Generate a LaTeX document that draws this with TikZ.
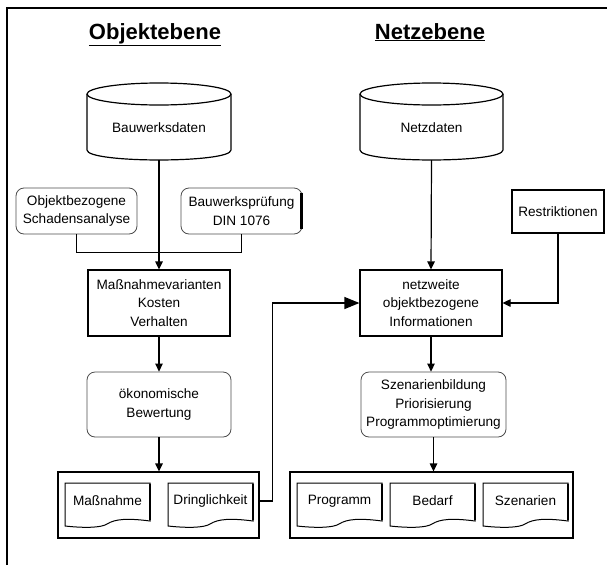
\documentclass[tikz,border=0pt]{standalone}
\usepackage{fontspec}
\setmainfont{Liberation Sans}
\usetikzlibrary{arrows.meta}

\tikzset{
  dok/.pic={
    \draw[line width=1pt,fill=white] (0,0) -- (85,0) -- (85,38) .. controls (62,35) and (50,36) .. (42,41) .. controls (36,45) and (18,45) .. (0,43) -- cycle;
    \draw[line width=2.2pt] (85,1) -- (85,37);
  }
}

\begin{document}
\begin{tikzpicture}[x=1pt,y=-1pt,font=\fontsize{13.6}{18.5}\selectfont,
  kasten/.style={draw=black,line width=1.2pt,inner sep=0pt,align=center},
  rund/.style={draw=black!70,line width=0.8pt,rounded corners=8pt,inner sep=0pt,align=center},
  pfeil/.style={line width=1.2pt,-{Triangle[length=8pt,width=7.5pt]}},
  grosspfeil/.style={line width=1.2pt,-{Triangle[length=15pt,width=12pt]}},
  titel/.style={font=\fontsize{22}{26}\selectfont\bfseries,anchor=base}]
\useasboundingbox (0,0) rectangle (607,565);
% Rahmen
\draw[line width=1.2pt] (7,565) -- (7,8) -- (607,8);
%
\node (t1) [titel] at (155,39) {\underline{Objektebene}};
\node (t2) [titel] at (430,39) {\underline{Netzebene}};
%
% Datenbanken
\draw[line width=1.2pt] (87,94) -- (87,150) .. controls (87,163.3) and (231,163.3) .. (231,150) -- (231,94);
\draw[line width=1.2pt] (159,94) ellipse [x radius=72,y radius=11];
\node (bwd) at (159,128) {Bauwerksdaten};
\coordinate (bwd-unten) at (159,160);
\draw[line width=1.2pt] (360,94) -- (360,150) .. controls (360,163.3) and (503,163.3) .. (503,150) -- (503,94);
\draw[line width=1.2pt] (431.5,94) ellipse [x radius=71.5,y radius=11];
\node (nd) at (431.5,128) {Netzdaten};
\coordinate (nd-unten) at (431.5,160);
%
\node (schaden) [rund,minimum width=121pt,minimum height=46pt] at (76.5,211) {Objektbezogene\\Schadensanalyse};
\node (pruef) [rund,minimum width=121pt,minimum height=46pt] at (241.5,211) {Bauwerksprüfung\\DIN 1076};
\draw[line width=2.2pt] ([xshift=-1pt,yshift=-5pt]pruef.north east) -- ([xshift=-1pt,yshift=5pt]pruef.south east);
\node (restr) [kasten,minimum width=92pt,minimum height=43pt] at (558,211.5) {Restriktionen};
%
\node (mv) [kasten,minimum width=142pt,minimum height=66pt] at (159,303) {Maßnahmevarianten\\Kosten\\Verhalten};
\node (netz) [kasten,minimum width=142pt,minimum height=66pt] at (431,303) {netzweite\\objektbezogene\\Informationen};
%
\node (oek) [rund,minimum width=144pt,minimum height=65pt] at (159,404.5) {ökonomische\\Bewertung};
\node (szen) [rund,minimum width=145pt,minimum height=65pt] at (433.5,404.5) {Szenarienbildung\\Priorisierung\\Programmoptimierung};
%
\node (gruppe1) [kasten,minimum width=201pt,minimum height=66pt] at (158.5,505) {};
\node (gruppe2) [kasten,minimum width=283pt,minimum height=66pt] at (431.5,505) {};
\pic at (65,483) {dok};
\pic at (168,483) {dok};
\pic at (297,483) {dok};
\pic at (390,483) {dok};
\pic at (483,483) {dok};
\node (massn) at (107.5,501) {Maßnahme};
\node (dring) at (210.5,501) {Dringlichkeit};
\node (progr) at (339.5,501) {Programm};
\node (bedarf) at (432.5,501) {Bedarf};
\node (szenarien) at (525.5,501) {Szenarien};
%
\draw[pfeil] (bwd-unten) -- (mv.north);
\draw[line width=1.2pt] (schaden.south) -- ++(0,18) -| (pruef.south);
\draw[pfeil] (mv.south) -- (oek.north);
\draw[pfeil] (oek.south) -- (oek.south |- gruppe1.north);
\draw[pfeil] (nd-unten) -- (netz.north);
\draw[pfeil] (restr.south) |- (netz.east);
\draw[pfeil] (netz.south) -- (netz.south |- szen.north);
\draw[pfeil] (szen.south) -- (szen.south |- gruppe2.north);
\draw[grosspfeil] (gruppe1.east |- dring) -- ++(13,0) |- (netz.west);
\end{tikzpicture}
\end{document}
